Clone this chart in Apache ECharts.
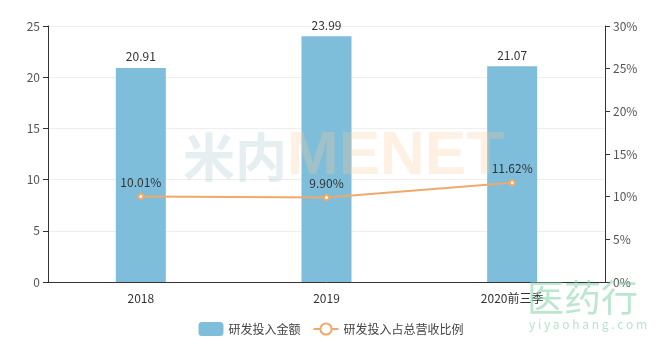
<!DOCTYPE html>
<html><head><meta charset="utf-8">
<script src="https://cdn.jsdelivr.net/npm/echarts@6/dist/echarts.min.js"></script>
<style>html,body{margin:0;padding:0;background:#fff}#c{width:662px;height:347px}</style>
</head><body><div id="c"></div>
<script>
const categories = ['2018', '2019', '2020前三季'];
const rdAmount = [20.91, 23.99, 21.07];
const rdRatio = [10.01, 9.90, 11.62];
const leftTicks = [0, 25, 5];
const rightTicks = [0, 30, 5];

const chart = echarts.init(document.getElementById('c'));
const font = '"Microsoft YaHei","Noto Sans CJK SC","Open Sans",sans-serif';
chart.setOption({
  animation: false,
  textStyle: {fontFamily: font},
  grid: {left: 48, right: 57, top: 26, bottom: 65},
  legend: {
    bottom: 6, left: 'center', itemWidth: 25, itemHeight: 14, itemGap: 12,
    textStyle: {color: '#444', fontSize: 12, fontFamily: font},
    data: ['研发投入金额', '研发投入占总营收比例']
  },
  xAxis: {
    type: 'category', data: categories,
    axisLine: {lineStyle: {color: '#333'}},
    axisTick: {lineStyle: {color: '#333'}},
    axisLabel: {color: '#333', fontSize: 12, margin: 10}
  },
  yAxis: [{
    type: 'value', min: leftTicks[0], max: leftTicks[1], interval: leftTicks[2],
    axisLine: {show: true, lineStyle: {color: '#333'}},
    axisTick: {show: true, lineStyle: {color: '#333'}},
    axisLabel: {color: '#555', fontSize: 12},
    splitLine: {lineStyle: {color: '#eee'}}
  }, {
    type: 'value', min: rightTicks[0], max: rightTicks[1], interval: rightTicks[2],
    axisLine: {show: true, lineStyle: {color: '#333'}},
    axisTick: {show: true, lineStyle: {color: '#333'}},
    axisLabel: {color: '#555', fontSize: 12, formatter: '{value}%'},
    splitLine: {show: false}
  }],
  series: [{
    name: '研发投入金额', type: 'bar', data: rdAmount, barWidth: 50,
    itemStyle: {color: '#7fbedb'},
    label: {show: true, position: 'top', color: '#333', fontSize: 12}
  }, {
    name: '研发投入占总营收比例', type: 'line', yAxisIndex: 1, data: rdRatio,
    symbol: 'emptyCircle', symbolSize: 5,
    lineStyle: {color: '#f0a96a', width: 2},
    itemStyle: {color: '#f0a96a'},
    label: {show: true, position: 'top', color: '#333', fontSize: 12, distance: 5,
      formatter: p => p.value.toFixed(2) + '%'}
  }],
  graphic: [{
    type: 'text', left: 183, top: 126, z: 100, silent: true,
    style: {
      text: '{a|米内}{b|MENET}',
      rich: {
        a: {fontSize: 52, fontWeight: 'bold', fill: 'rgba(180,205,215,0.35)', fontFamily: font},
        b: {fontSize: 62, fontWeight: 'bold', fill: 'rgba(250,200,150,0.28)', fontFamily: 'Liberation Sans, Arial, sans-serif'}
      }
    }
  }, {
    type: 'text', left: 527, top: 279, z: 100, silent: true,
    style: {text: '医药行', fontSize: 37, fill: 'rgba(120,205,160,0.5)', fontFamily: font}
  }, {
    type: 'text', left: 529, top: 318, z: 100, silent: true,
    style: {text: 'y i y a o h a n g . c o m', fontSize: 12, fill: 'rgba(120,205,160,0.55)', fontFamily: font}
  }]
});
</script></body></html>
